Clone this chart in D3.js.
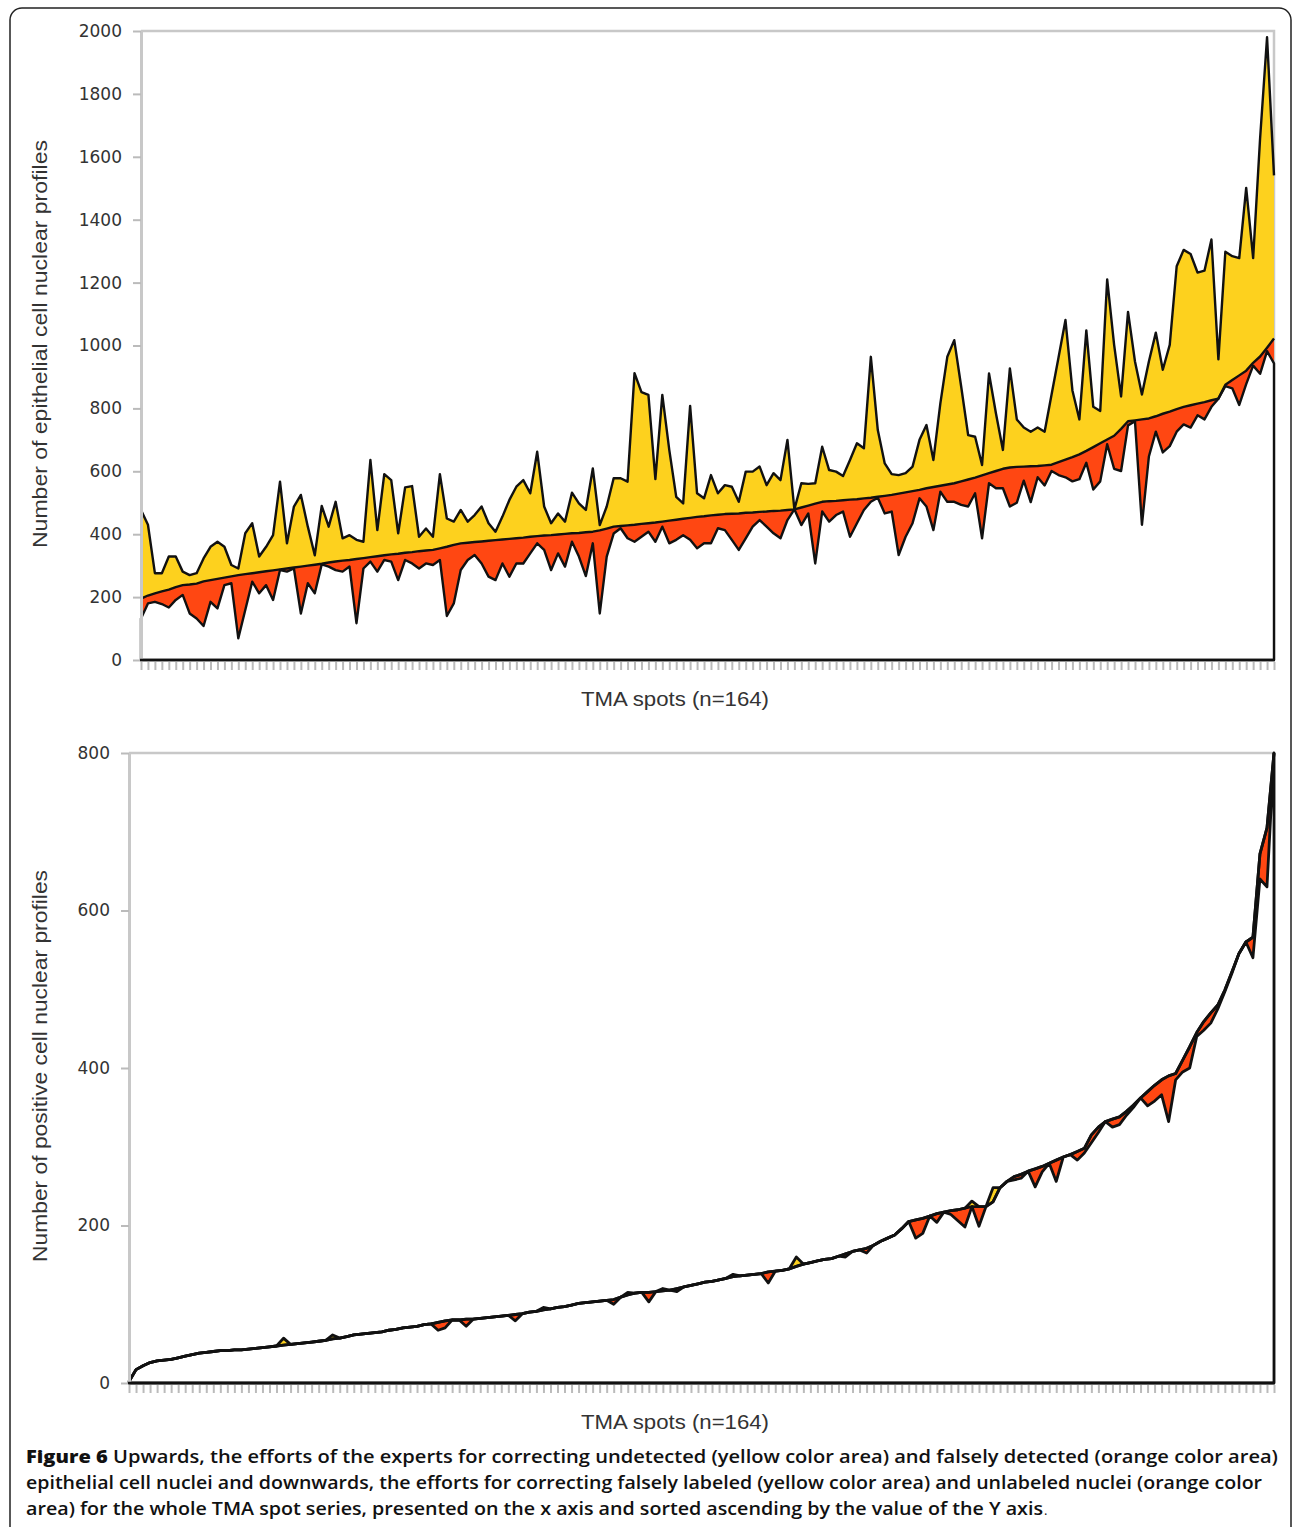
<!DOCTYPE html>
<meta charset="utf-8">
<head>
	<script src="https://cdn.jsdelivr.net/npm/d3@7"></script>
	<style>
		body { margin: 0; background: #fff; }
		.tick text { font: 17px "DejaVu Sans", sans-serif; fill: #333; }
		.axis-title { font: 21px "Liberation Sans", Arial, sans-serif; fill: #333; }
		.caption { font-family: "Open Sans", sans-serif; font-size: 17.5px; font-weight: 600; fill: #111; }
	</style>
</head>
<body>
	<svg id="svg"></svg>
</body>
<script>
	// x categories: TMA spots, sorted ascending
	var spots = d3.range(1, 165);

	// upper chart: epithelial cell nuclear profiles
	var epiTicks = [0, 200, 400, 600, 800, 1000, 1200, 1400, 1600, 1800, 2000];
	var epiReference = [
		195, 205, 212, 218, 224, 232, 238, 240, 243, 250,
		254, 258, 262, 266, 270, 273, 276, 279, 282, 285,
		288, 291, 294, 297, 300, 303, 306, 310, 313, 316,
		318, 321, 324, 327, 330, 333, 336, 338, 341, 343,
		346, 348, 350, 355, 360, 366, 371, 373, 375, 377,
		379, 381, 383, 385, 387, 389, 392, 394, 396, 397,
		399, 401, 403, 404, 406, 408, 412, 418, 424, 426,
		428, 430, 433, 435, 437, 440, 443, 446, 449, 452,
		455, 457, 460, 462, 464, 465, 466, 468, 469, 471,
		472, 474, 475, 477, 479, 485, 491, 497, 503, 505,
		506, 508, 510, 511, 514, 516, 519, 522, 525, 529,
		533, 537, 541, 546, 550, 554, 558, 562, 568, 574,
		580, 587, 594, 601, 608, 612, 614, 615, 616, 617,
		619, 621, 629, 637, 645, 654, 665, 677, 689, 701,
		713, 735, 759, 762, 765, 768, 775, 783, 790, 798,
		805, 810, 815, 820, 826, 831, 875, 890, 905, 920,
		945, 965, 993, 1022
	];
	var epiUndetected = [
		477, 430, 276, 276, 329, 329, 281, 270, 276, 323,
		360, 376, 360, 302, 291, 403, 435, 329, 360, 397,
		567, 371, 488, 525, 424, 333, 490, 424, 503, 387,
		397, 382, 376, 636, 413, 591, 572, 403, 549, 553,
		392, 418, 392, 591, 450, 440, 477, 440, 461, 488,
		435, 408, 456, 509, 551, 572, 530, 662, 488, 435,
		466, 440, 532, 498, 477, 609, 429, 488, 578, 578,
		567, 912, 852, 843, 575, 843, 668, 519, 498, 808,
		530, 514, 588, 530, 556, 551, 503, 599, 599, 615,
		556, 594, 572, 700, 479, 562, 560, 562, 678, 604,
		599, 585, 636, 689, 673, 964, 731, 625, 591, 588,
		594, 615, 700, 747, 636, 816, 964, 1017, 869, 715,
		710, 620, 911, 784, 668, 927, 765, 739, 726, 739,
		726, 844, 962, 1081, 857, 765, 1048, 805, 792, 1210,
		1002, 838, 1107, 949, 844, 949, 1041, 923, 1002, 1252,
		1304, 1291, 1232, 1238, 1337, 956, 1298, 1284, 1278, 1501,
		1278, 1659, 1980, 1541
	];
	var epiFalseDetected = [
		132, 180, 185, 178, 167, 191, 207, 148, 132, 108,
		185, 164, 238, 244, 69, 159, 249, 212, 238, 191,
		286, 281, 291, 148, 244, 212, 304, 297, 286, 281,
		297, 117, 291, 313, 281, 318, 313, 254, 318, 307,
		291, 307, 302, 318, 140, 180, 286, 318, 334, 307,
		265, 254, 307, 265, 307, 307, 339, 371, 350, 286,
		339, 297, 376, 329, 267, 371, 148, 329, 402, 419,
		387, 376, 392, 408, 376, 424, 371, 382, 397, 382,
		355, 371, 371, 419, 413, 382, 350, 387, 424, 445,
		424, 403, 387, 445, 479, 429, 466, 307, 472, 440,
		461, 472, 392, 435, 477, 503, 516, 466, 472, 334,
		392, 435, 514, 488, 413, 535, 503, 503, 493, 488,
		530, 387, 562, 546, 546, 488, 500, 570, 502, 581,
		555, 601, 588, 581, 568, 575, 627, 542, 568, 686,
		608, 601, 746, 759, 430, 647, 726, 660, 680, 726,
		749, 739, 778, 765, 805, 831, 871, 864, 811, 877,
		936, 910, 982, 943
	];

	// lower chart: positive cell nuclear profiles
	var posTicks = [0, 200, 400, 600, 800];
	var posReference = [
		2, 17, 22, 26, 28, 29, 30, 32, 34, 36,
		38, 39, 40, 41, 41, 42, 42, 43, 44, 45,
		46, 47, 48, 49, 50, 51, 52, 53, 54, 56,
		57, 59, 61, 62, 63, 64, 65, 67, 68, 70,
		71, 72, 74, 75, 77, 79, 80, 80, 81, 81,
		82, 83, 84, 85, 86, 87, 88, 90, 91, 93,
		94, 96, 97, 99, 101, 102, 103, 104, 105, 106,
		109, 112, 114, 115, 115, 116, 117, 118, 120, 122,
		124, 126, 128, 129, 131, 133, 135, 136, 137, 138,
		139, 141, 142, 143, 145, 148, 151, 153, 155, 157,
		158, 161, 164, 167, 169, 171, 175, 180, 184, 188,
		196, 205, 207, 209, 212, 215, 217, 219, 220, 222,
		224, 224, 224, 230, 248, 256, 262, 265, 269, 272,
		275, 279, 283, 287, 290, 294, 298, 315, 325, 332,
		335, 338, 345, 353, 362, 370, 378, 385, 390, 393,
		410, 427, 445, 459, 470, 480, 499, 522, 545, 560,
		566, 672, 705, 800
	];
	var posFalseLabeled = [
		2, 17, 22, 26, 28, 29, 30, 32, 34, 36,
		38, 39, 40, 41, 41, 42, 42, 43, 44, 45,
		46, 47, 57, 49, 50, 51, 52, 53, 54, 61,
		57, 59, 61, 62, 63, 64, 65, 67, 68, 70,
		71, 72, 74, 75, 77, 79, 80, 80, 81, 81,
		82, 83, 84, 85, 86, 87, 88, 90, 91, 96,
		94, 96, 97, 99, 101, 102, 103, 104, 105, 106,
		109, 115, 114, 115, 115, 116, 120, 118, 120, 122,
		124, 126, 128, 129, 131, 133, 138, 136, 137, 138,
		139, 141, 142, 143, 145, 160, 151, 153, 155, 157,
		158, 161, 164, 167, 169, 171, 175, 180, 184, 188,
		196, 205, 207, 209, 212, 215, 217, 219, 220, 222,
		231, 224, 224, 248, 248, 256, 262, 265, 269, 272,
		275, 279, 283, 287, 290, 294, 298, 315, 325, 332,
		335, 338, 345, 353, 362, 370, 378, 385, 390, 393,
		410, 427, 445, 459, 470, 480, 499, 522, 545, 560,
		566, 672, 705, 800
	];
	var posUnlabeled = [
		2, 17, 22, 26, 28, 29, 30, 32, 34, 36,
		38, 39, 40, 41, 41, 42, 42, 43, 44, 45,
		46, 47, 48, 49, 50, 51, 52, 53, 54, 56,
		57, 59, 61, 62, 63, 64, 65, 67, 68, 70,
		71, 72, 74, 75, 67, 70, 80, 80, 72, 81,
		82, 83, 84, 85, 86, 79, 88, 90, 91, 93,
		94, 96, 97, 99, 101, 102, 103, 104, 105, 100,
		109, 112, 114, 115, 103, 116, 117, 118, 116, 122,
		124, 126, 128, 129, 131, 133, 135, 136, 137, 138,
		139, 127, 142, 143, 145, 148, 151, 153, 155, 157,
		158, 161, 160, 167, 169, 165, 175, 180, 184, 188,
		196, 205, 184, 190, 212, 204, 217, 214, 206, 198,
		224, 199, 224, 230, 248, 256, 258, 260, 269, 249,
		268, 279, 256, 287, 290, 283, 292, 305, 318, 332,
		325, 328, 340, 350, 362, 352, 358, 366, 332, 385,
		395, 400, 440, 448, 457, 475, 497, 520, 545, 560,
		540, 640, 630, 800
	];

	var yellow = '#FDD11E', orange = '#FF4712';

	var svg = d3.select("#svg")
		.attr('width', 1293)
		.attr('height', 1527);

	// rounded frame around the whole figure (bottom runs off the page)
	svg.append('rect')
		.attr('x', 10).attr('y', 8)
		.attr('width', 1281).attr('height', 1560)
		.attr('rx', 12)
		.attr('fill', 'none')
		.attr('stroke', '#222')
		.attr('stroke-width', 1.5);

	function drawPanel(opt) {
		var x = d3.scalePoint().domain(spots).range([opt.left, opt.right]);
		var y = d3.scaleLinear().domain([0, opt.max]).range([opt.bottom, opt.top]);
		var g = svg.append('g');

		// gray frame: top and right
		g.append('path')
			.attr('d', 'M' + opt.left + ',' + opt.top + 'H' + opt.right + 'V' + opt.bottom)
			.attr('fill', 'none')
			.attr('stroke', '#c8c8c8')
			.attr('stroke-width', 2.5);

		var rows = spots.map(function (s, i) {
			return { s: s, base: opt.base[i], up: opt.up[i], low: opt.low[i] };
		});

		// layered areas: yellow to the upper series, orange to the reference, white to the lower series
		g.append('path').datum(rows)
			.attr('fill', yellow)
			.attr('d', d3.area().x(d => x(d.s)).y0(y(0)).y1(d => y(d.up)));
		g.append('path').datum(rows)
			.attr('fill', orange)
			.attr('d', d3.area().x(d => x(d.s)).y0(y(0)).y1(d => y(d.base)));
		g.append('path').datum(rows)
			.attr('fill', '#fff')
			.attr('stroke', '#111')
			.attr('stroke-width', opt.lw)
			.attr('stroke-linejoin', 'round')
			.attr('d', d3.area().x(d => x(d.s)).y0(y(0)).y1(d => y(d.low)));

		['up', 'base'].forEach(function (k) {
			g.append('path').datum(rows)
				.attr('fill', 'none')
				.attr('stroke', '#111')
				.attr('stroke-width', opt.lw)
				.attr('stroke-linejoin', 'round')
				.attr('d', d3.line().x(d => x(d.s)).y(d => y(d[k])));
		});

		// y axis
		var ya = g.append('g')
			.attr('transform', 'translate(' + opt.left + ',0)')
			.call(d3.axisLeft(y).tickValues(opt.ticks).tickFormat(d3.format('d'))
				.tickSize(8).tickSizeOuter(0).tickPadding(11));
		ya.select('.domain').attr('stroke', '#c8c8c8').attr('stroke-width', 3);
		ya.selectAll('.tick line').attr('stroke', '#bbb').attr('stroke-width', 2);

		// x axis, one tick per spot
		var xa = g.append('g')
			.attr('transform', 'translate(0,' + (opt.bottom + 2) + ')')
			.call(d3.axisBottom(x).tickSize(8).tickSizeOuter(0).tickFormat(''));
		xa.select('.domain').remove();
		xa.selectAll('.tick line').attr('stroke', '#bbb').attr('stroke-width', 2);
		g.append('line')
			.attr('x1', opt.left - 1).attr('x2', opt.right + 1)
			.attr('y1', opt.bottom).attr('y2', opt.bottom)
			.attr('stroke', '#111').attr('stroke-width', 2.5);

		g.append('text')
			.attr('class', 'axis-title')
			.attr('x', 675).attr('y', opt.xTitleY)
			.attr('text-anchor', 'middle')
			.attr('textLength', 188)
			.attr('lengthAdjust', 'spacingAndGlyphs')
			.text('TMA spots (n=164)');

		g.append('text')
			.attr('class', 'axis-title')
			.attr('transform', 'translate(40,' + opt.yTitleMid + ') rotate(-90)')
			.attr('text-anchor', 'middle')
			.attr('dy', '0.35em')
			.attr('textLength', opt.yTitleLen)
			.attr('lengthAdjust', 'spacingAndGlyphs')
			.text(opt.yTitle);
	}

	drawPanel({
		left: 141, right: 1274, top: 31, bottom: 660, max: 2000,
		ticks: epiTicks, base: epiReference, up: epiUndetected, low: epiFalseDetected,
		lw: 2.4, xTitleY: 706, yTitleMid: 344, yTitleLen: 408,
		yTitle: 'Number of epithelial cell nuclear profiles'
	});

	drawPanel({
		left: 129, right: 1274, top: 753, bottom: 1383, max: 800,
		ticks: posTicks, base: posReference, up: posFalseLabeled, low: posUnlabeled,
		lw: 2.8, xTitleY: 1429, yTitleMid: 1066, yTitleLen: 392,
		yTitle: 'Number of positive cell nuclear profiles'
	});

	// caption
	var cap = [
		{ y: 1463, len: 1252, bold: 'Figure 6 ', text: 'Upwards, the efforts of the experts for correcting undetected (yellow color area) and falsely detected (orange color area)' },
		{ y: 1489, len: 1236, bold: '', text: 'epithelial cell nuclei and downwards, the efforts for correcting falsely labeled (yellow color area) and unlabeled nuclei (orange color' },
		{ y: 1515, len: 1017, bold: '', text: 'area) for the whole TMA spot series, presented on the x axis and sorted ascending by the value of the Y axis' }
	];
	cap.forEach(function (c) {
		var t = svg.append('text')
			.attr('class', 'caption')
			.attr('x', 26).attr('y', c.y)
			.attr('textLength', c.len)
			.attr('lengthAdjust', 'spacingAndGlyphs');
		if (c.bold) t.append('tspan').attr('font-weight', 800).text(c.bold);
		t.append('tspan').text(c.text);
	});
	svg.append('text')
		.attr('x', 1044).attr('y', 1515)
		.attr('font-family', 'Open Sans, sans-serif')
		.attr('font-size', 13)
		.attr('fill', '#111')
		.text('.');
</script>
